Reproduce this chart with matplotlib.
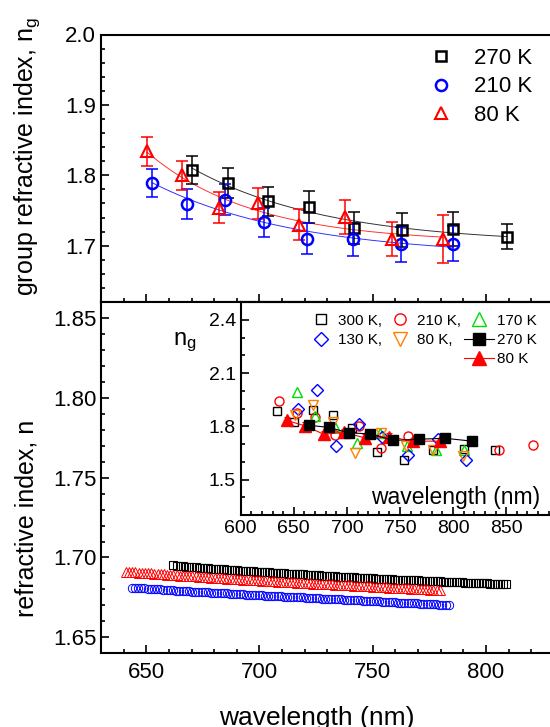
import numpy as np
import matplotlib
matplotlib.use('Agg')
import matplotlib.pyplot as plt
from matplotlib.ticker import MultipleLocator
from matplotlib.lines import Line2D

plt.rcParams['font.family'] = ['Liberation Sans', 'DejaVu Sans']
plt.rcParams['mathtext.fontset'] = 'custom'
plt.rcParams['mathtext.rm'] = 'Liberation Sans'
plt.rcParams['mathtext.it'] = 'Liberation Sans:italic'

# ---------------- top panel: group refractive index ----------------
top_wl_270 = [670.0, 686.2, 703.6, 721.9, 741.7, 762.9, 785.3, 809.2]
top_ng_270 = [1.808, 1.789, 1.763, 1.755, 1.725, 1.722, 1.724, 1.713]
top_err_270 = [0.020, 0.021, 0.021, 0.023, 0.023, 0.024, 0.024, 0.018]

top_wl_210 = [652.7, 668.1, 684.8, 702.1, 721.1, 741.3, 762.7, 785.6]
top_ng_210 = [1.789, 1.759, 1.765, 1.733, 1.710, 1.709, 1.702, 1.703]
top_err_210 = [0.020, 0.021, 0.022, 0.021, 0.022, 0.023, 0.025, 0.025]

top_wl_80 = [650.5, 665.8, 682.1, 699.5, 717.6, 737.6, 758.4, 780.9]
top_ng_80 = [1.834, 1.800, 1.754, 1.760, 1.730, 1.741, 1.709, 1.709]
top_err_80 = [0.021, 0.021, 0.022, 0.022, 0.022, 0.024, 0.024, 0.034]

# ---------------- bottom panel: refractive index ----------------
bot_wl_270 = [662.0, 663.4, 664.8, 666.2, 667.6, 669.0, 670.4, 671.8, 673.2, 674.6,
              676.0, 677.4, 678.8, 680.2, 681.6, 683.0, 684.4, 685.8, 687.2, 688.6,
              690.0, 691.4, 692.8, 694.2, 695.6, 697.0, 698.4, 699.8, 701.2, 702.6,
              704.0, 705.4, 706.8, 708.2, 709.6, 711.0, 712.4, 713.8, 715.2, 716.6,
              718.0, 719.4, 720.8, 722.2, 723.6, 725.0, 726.4, 727.8, 729.2, 730.6,
              732.0, 733.4, 734.8, 736.2, 737.6, 739.0, 740.4, 741.8, 743.2, 744.6,
              746.0, 747.4, 748.8, 750.2, 751.6, 753.0, 754.4, 755.8, 757.2, 758.6,
              760.0, 761.4, 762.8, 764.2, 765.6, 767.0, 768.4, 769.8, 771.2, 772.6,
              774.0, 775.4, 776.8, 778.2, 779.6, 781.0, 782.4, 783.8, 785.2, 786.6,
              788.0, 789.4, 790.8, 792.2, 793.6, 795.0, 796.4, 797.8, 799.2, 800.6,
              802.0, 803.4, 804.8, 806.2, 807.6, 809.0]
bot_n_270 = [1.6950, 1.6948, 1.6947, 1.6945, 1.6943, 1.6942, 1.6940, 1.6939, 1.6937, 1.6935,
             1.6934, 1.6932, 1.6930, 1.6929, 1.6927, 1.6926, 1.6925, 1.6923, 1.6922, 1.6921,
             1.6920, 1.6918, 1.6917, 1.6916, 1.6914, 1.6913, 1.6912, 1.6910, 1.6909, 1.6908,
             1.6907, 1.6905, 1.6904, 1.6903, 1.6902, 1.6901, 1.6899, 1.6898, 1.6897, 1.6896,
             1.6895, 1.6894, 1.6892, 1.6891, 1.6890, 1.6889, 1.6888, 1.6886, 1.6885, 1.6884,
             1.6883, 1.6882, 1.6880, 1.6879, 1.6878, 1.6877, 1.6876, 1.6875, 1.6874, 1.6873,
             1.6872, 1.6871, 1.6870, 1.6869, 1.6868, 1.6867, 1.6866, 1.6865, 1.6864, 1.6863,
             1.6862, 1.6861, 1.6860, 1.6859, 1.6859, 1.6858, 1.6857, 1.6856, 1.6855, 1.6854,
             1.6854, 1.6853, 1.6852, 1.6851, 1.6850, 1.6849, 1.6849, 1.6848, 1.6847, 1.6846,
             1.6845, 1.6844, 1.6843, 1.6843, 1.6842, 1.6841, 1.6840, 1.6839, 1.6838, 1.6838,
             1.6837, 1.6836, 1.6836, 1.6835, 1.6834, 1.6834]

bot_wl_80 = [641.0, 642.4, 643.8, 645.2, 646.6, 648.0, 649.4, 650.8, 652.2, 653.6,
             655.0, 656.4, 657.8, 659.2, 660.6, 662.0, 663.4, 664.8, 666.2, 667.6,
             669.0, 670.4, 671.8, 673.2, 674.6, 676.0, 677.4, 678.8, 680.2, 681.6,
             683.0, 684.4, 685.8, 687.2, 688.6, 690.0, 691.4, 692.8, 694.2, 695.6,
             697.0, 698.4, 699.8, 701.2, 702.6, 704.0, 705.4, 706.8, 708.2, 709.6,
             711.0, 712.4, 713.8, 715.2, 716.6, 718.0, 719.4, 720.8, 722.2, 723.6,
             725.0, 726.4, 727.8, 729.2, 730.6, 732.0, 733.4, 734.8, 736.2, 737.6,
             739.0, 740.4, 741.8, 743.2, 744.6, 746.0, 747.4, 748.8, 750.2, 751.6,
             753.0, 754.4, 755.8, 757.2, 758.6, 760.0, 761.4, 762.8, 764.2, 765.6,
             767.0, 768.4, 769.8, 771.2, 772.6, 774.0, 775.4, 776.8, 778.2, 779.6]
bot_n_80 = [1.6912, 1.6911, 1.6909, 1.6908, 1.6906, 1.6905, 1.6903, 1.6902, 1.6900, 1.6899,
            1.6897, 1.6896, 1.6894, 1.6893, 1.6891, 1.6890, 1.6889, 1.6887, 1.6886, 1.6885,
            1.6883, 1.6882, 1.6881, 1.6879, 1.6878, 1.6877, 1.6875, 1.6874, 1.6873, 1.6872,
            1.6870, 1.6869, 1.6868, 1.6867, 1.6866, 1.6864, 1.6863, 1.6862, 1.6861, 1.6860,
            1.6859, 1.6857, 1.6856, 1.6855, 1.6854, 1.6853, 1.6852, 1.6851, 1.6849, 1.6848,
            1.6847, 1.6846, 1.6845, 1.6844, 1.6843, 1.6842, 1.6840, 1.6839, 1.6838, 1.6837,
            1.6836, 1.6835, 1.6834, 1.6833, 1.6832, 1.6831, 1.6830, 1.6829, 1.6828, 1.6827,
            1.6826, 1.6825, 1.6824, 1.6823, 1.6822, 1.6821, 1.6820, 1.6819, 1.6817, 1.6816,
            1.6815, 1.6814, 1.6813, 1.6812, 1.6811, 1.6810, 1.6809, 1.6808, 1.6807, 1.6806,
            1.6805, 1.6804, 1.6803, 1.6802, 1.6801, 1.6800, 1.6799, 1.6798, 1.6797, 1.6795]

bot_wl_210 = [643.6, 645.0, 646.4, 647.8, 649.2, 650.6, 652.0, 653.4, 654.8, 656.2,
              657.6, 659.0, 660.4, 661.8, 663.2, 664.6, 666.0, 667.4, 668.8, 670.2,
              671.6, 673.0, 674.4, 675.8, 677.2, 678.6, 680.0, 681.4, 682.8, 684.2,
              685.6, 687.0, 688.4, 689.8, 691.2, 692.6, 694.0, 695.4, 696.8, 698.2,
              699.6, 701.0, 702.4, 703.8, 705.2, 706.6, 708.0, 709.4, 710.8, 712.2,
              713.6, 715.0, 716.4, 717.8, 719.2, 720.6, 722.0, 723.4, 724.8, 726.2,
              727.6, 729.0, 730.4, 731.8, 733.2, 734.6, 736.0, 737.4, 738.8, 740.2,
              741.6, 743.0, 744.4, 745.8, 747.2, 748.6, 750.0, 751.4, 752.8, 754.2,
              755.6, 757.0, 758.4, 759.8, 761.2, 762.6, 764.0, 765.4, 766.8, 768.2,
              769.6, 771.0, 772.4, 773.8, 775.2, 776.6, 778.0, 779.4, 780.8, 782.2,
              783.6]
bot_n_210 = [1.6812, 1.6811, 1.6809, 1.6808, 1.6807, 1.6805, 1.6804, 1.6802, 1.6801, 1.6800,
             1.6798, 1.6797, 1.6796, 1.6794, 1.6793, 1.6792, 1.6791, 1.6790, 1.6789, 1.6787,
             1.6786, 1.6785, 1.6784, 1.6783, 1.6781, 1.6780, 1.6779, 1.6778, 1.6777, 1.6776,
             1.6775, 1.6773, 1.6772, 1.6771, 1.6770, 1.6769, 1.6768, 1.6767, 1.6766, 1.6764,
             1.6763, 1.6762, 1.6761, 1.6760, 1.6759, 1.6758, 1.6757, 1.6756, 1.6755, 1.6754,
             1.6753, 1.6753, 1.6752, 1.6751, 1.6750, 1.6749, 1.6748, 1.6746, 1.6745, 1.6744,
             1.6743, 1.6742, 1.6741, 1.6740, 1.6739, 1.6738, 1.6737, 1.6736, 1.6735, 1.6734,
             1.6733, 1.6732, 1.6731, 1.6730, 1.6729, 1.6728, 1.6727, 1.6726, 1.6725, 1.6724,
             1.6723, 1.6722, 1.6720, 1.6719, 1.6718, 1.6717, 1.6716, 1.6715, 1.6714, 1.6713,
             1.6712, 1.6711, 1.6710, 1.6709, 1.6708, 1.6707, 1.6706, 1.6705, 1.6704, 1.6703,
             1.6702]

# ---------------- inset: group index for several temperatures ----------------
in_wl_300 = [634.0, 650.5, 668.5, 687.3, 705.1, 728.8, 753.6, 781.4, 810.0, 839.6]
in_ng_300 = [1.888, 1.826, 1.890, 1.866, 1.790, 1.654, 1.611, 1.668, 1.670, 1.664]
in_wl_210 = [636.1, 652.7, 670.0, 688.8, 711.2, 732.3, 757.9, 843.6, 875.6]
in_ng_210 = [1.944, 1.875, 1.852, 1.748, 1.800, 1.678, 1.746, 1.665, 1.693]
in_wl_170 = [652.7, 670.0, 688.8, 709.2, 731.5, 756.5, 783.5, 810.2]
in_ng_170 = [1.995, 1.856, 1.797, 1.706, 1.764, 1.688, 1.667, 1.664]
in_wl_130 = [653.7, 671.6, 689.5, 711.5, 733.0, 757.5, 785.5, 812.5]
in_ng_130 = [1.898, 2.006, 1.686, 1.811, 1.737, 1.638, 1.727, 1.610]
in_wl_80o = [651.0, 668.4, 687.3, 707.7, 732.0, 755.8, 781.4, 809.6]
in_ng_80o = [1.862, 1.922, 1.823, 1.650, 1.763, 1.688, 1.669, 1.633]
in_wl_270 = [664.2, 683.0, 702.0, 722.0, 743.8, 767.5, 792.8, 818.0]
in_ng_270 = [1.806, 1.793, 1.763, 1.757, 1.720, 1.727, 1.732, 1.716]
in_wl_80f = [643.3, 660.6, 678.2, 697.5, 717.3, 739.5, 762.5, 787.3]
in_ng_80f = [1.833, 1.802, 1.755, 1.765, 1.734, 1.741, 1.716, 1.716]
in_err_80f = [0.02] * 8

legend_top = ['270 K', '210 K', '80 K']
legend_inset = ['300 K,', '130 K,', '210 K,', '80 K,', '170 K', '270 K', '80 K']

RED = '#ff0000'
BLUE = '#0000ff'
GREEN = '#00dd00'
ORANGE = '#ff8000'


def exp_fit(wl, y):
    """Least-squares fit y = a + b*exp(-(wl-wl0)/t) (grid search on t)."""
    wl = np.asarray(wl, float)
    y = np.asarray(y, float)
    best = None
    for t in np.linspace(15, 400, 386):
        A = np.column_stack([np.ones_like(wl), np.exp(-(wl - wl[0]) / t)])
        coef = np.linalg.lstsq(A, y, rcond=None)[0]
        r = np.sum((A @ coef - y) ** 2)
        if best is None or r < best[0]:
            best = (r, t, coef)
    _, t, coef = best
    xf = np.linspace(wl.min(), wl.max(), 200)
    return xf, coef[0] + coef[1] * np.exp(-(xf - wl[0]) / t)


W, H = 550, 727
fig = plt.figure(figsize=(W / 100, H / 100), dpi=100)

L, R = 101, 553.8
ax_top = fig.add_axes([L / W, (H - 302) / H, (R - L) / W, (302 - 34.5) / H])
ax_bot = fig.add_axes([L / W, (H - 653.3) / H, (R - L) / W, (653.3 - 302) / H])
ax_in = fig.add_axes([240.7 / W, (H - 515) / H, 318.6 / W, (515 - 302) / H])

SPW = 1.5
for ax in (ax_top, ax_bot, ax_in):
    for sp in ax.spines.values():
        sp.set_linewidth(SPW)
    ax.tick_params(which='both', direction='in', width=1.2, top=False, right=False)
    ax.tick_params(which='major', length=5.5)
    ax.tick_params(which='minor', length=3)

# ---- top panel ----
for wl, ng, err, col in [(top_wl_270, top_ng_270, top_err_270, 'black'),
                         (top_wl_210, top_ng_210, top_err_210, BLUE),
                         (top_wl_80, top_ng_80, top_err_80, RED)]:
    xf, yf = exp_fit(wl, ng)
    ax_top.plot(xf, yf, '-', color=col, lw=0.7, alpha=0.8, zorder=2)
    ax_top.errorbar(wl, ng, yerr=err, fmt='none', ecolor=col, elinewidth=1.1,
                    capsize=4, capthick=1.1, zorder=3)
h1, = ax_top.plot(top_wl_270, top_ng_270, 's', ms=7.5, mfc='none', mec='black', mew=1.8, zorder=4)
h2, = ax_top.plot(top_wl_210, top_ng_210, 'o', ms=8, mfc='none', mec=BLUE, mew=1.8, zorder=4)
h3, = ax_top.plot(top_wl_80, top_ng_80, '^', ms=9, mfc='none', mec=RED, mew=1.5, zorder=4)
ax_top.legend([h1, h2, h3], legend_top, loc='upper left', bbox_to_anchor=(0.727, 0.95),
              frameon=False, fontsize=16, handlelength=1.0, handletextpad=0.95,
              labelspacing=0.34, borderpad=0, borderaxespad=0)
ax_top.set_xlim(630, 830)
ax_top.set_ylim(1.62, 2.0)
ax_top.xaxis.set_major_locator(MultipleLocator(50))
ax_top.xaxis.set_minor_locator(MultipleLocator(10))
ax_top.yaxis.set_major_locator(MultipleLocator(0.1))
ax_top.yaxis.set_minor_locator(MultipleLocator(0.02))
ax_top.tick_params(axis='x', labelbottom=False)
ax_top.tick_params(axis='y', labelsize=16)
ax_top.set_yticks([1.7, 1.8, 1.9, 2.0])
ax_top.set_yticklabels(['1.7', '1.8', '1.9', '2.0'])
ax_top.set_ylabel('group refractive index, n$_\\mathrm{g}$', fontsize=18)
ax_top.yaxis.set_label_coords(-0.13, 0.545)

# ---- bottom panel ----
ax_bot.plot(bot_wl_270, bot_n_270, 's', ms=6, mfc='none', mec='black', mew=0.8)
ax_bot.plot(bot_wl_80, bot_n_80, '^', ms=6.5, mfc='none', mec=RED, mew=0.7)
ax_bot.plot(bot_wl_210, bot_n_210, 'o', ms=6, mfc='none', mec=BLUE, mew=0.7)
ax_bot.set_xlim(630, 830)
ax_bot.set_ylim(1.64, 1.86)
ax_bot.xaxis.set_major_locator(MultipleLocator(50))
ax_bot.xaxis.set_minor_locator(MultipleLocator(10))
ax_bot.set_yticks([1.65, 1.70, 1.75, 1.80, 1.85])
ax_bot.yaxis.set_minor_locator(MultipleLocator(0.01))
ax_bot.set_xticks([650, 700, 750, 800])
ax_bot.tick_params(labelsize=16)
ax_bot.tick_params(axis='x', pad=6)
ax_bot.set_ylabel('refractive index, n', fontsize=18)
ax_bot.yaxis.set_label_coords(-0.137, 0.385)
ax_bot.set_xlabel('wavelength (nm)', fontsize=19, va='center')
ax_bot.xaxis.set_label_coords(0.477, -0.184)

# ---- inset ----
ax_in.set_facecolor('none')
s1, = ax_in.plot(in_wl_300, in_ng_300, 's', ms=5.5, mfc='none', mec='black', mew=1.0, zorder=3)
s2, = ax_in.plot(in_wl_210, in_ng_210, 'o', ms=6.5, mfc='none', mec=RED, mew=1.0, zorder=3)
s3, = ax_in.plot(in_wl_170, in_ng_170, '^', ms=7.5, mfc='none', mec=GREEN, mew=1.0, zorder=3)
s4, = ax_in.plot(in_wl_130, in_ng_130, 'D', ms=6, mfc='none', mec=BLUE, mew=1.0, zorder=3)
s5, = ax_in.plot(in_wl_80o, in_ng_80o, 'v', ms=7.5, mfc='none', mec=ORANGE, mew=1.0, zorder=3)
ax_in.errorbar(in_wl_80f, in_ng_80f, yerr=in_err_80f, fmt='none', ecolor=RED,
               elinewidth=0.8, capsize=2, capthick=0.8, zorder=4)
s7, = ax_in.plot(in_wl_80f, in_ng_80f, '^-', color=RED, ms=8, lw=0.8, zorder=4)
s6, = ax_in.plot(in_wl_270, in_ng_270, 's-', color='black', ms=6.5, lw=0.8, zorder=5)
blank = Line2D([], [], linestyle='none')
ax_in.legend([s1, s4, blank, s2, s5, blank, s3, s6, s7],
             [legend_inset[0], legend_inset[1], '', legend_inset[2], legend_inset[3], '',
              legend_inset[4], legend_inset[5], legend_inset[6]],
             ncol=3, loc='upper left', bbox_to_anchor=(0.203, 0.945), frameon=False,
             fontsize=11, handlelength=2.0, handletextpad=0.15, columnspacing=0.15,
             labelspacing=0.35, borderpad=0, borderaxespad=0, markerscale=1.25)
ax_in.set_xlim(600, 900)
ax_in.set_ylim(1.3, 2.5)
ax_in.set_xticks([600, 650, 700, 750, 800, 850])
ax_in.xaxis.set_minor_locator(MultipleLocator(10))
ax_in.set_yticks([1.5, 1.8, 2.1, 2.4])
ax_in.yaxis.set_minor_locator(MultipleLocator(0.1))
ax_in.tick_params(labelsize=14)
ax_in.set_ylabel('n$_\\mathrm{g}$', fontsize=17, rotation=0, va='center', ha='center')
ax_in.yaxis.set_label_coords(-0.175, 0.81)
ax_in.set_xlabel('wavelength (nm)', fontsize=16.5, va='center')
ax_in.xaxis.set_label_coords(0.676, 0.08)

fig.savefig('out.png', dpi=100)
